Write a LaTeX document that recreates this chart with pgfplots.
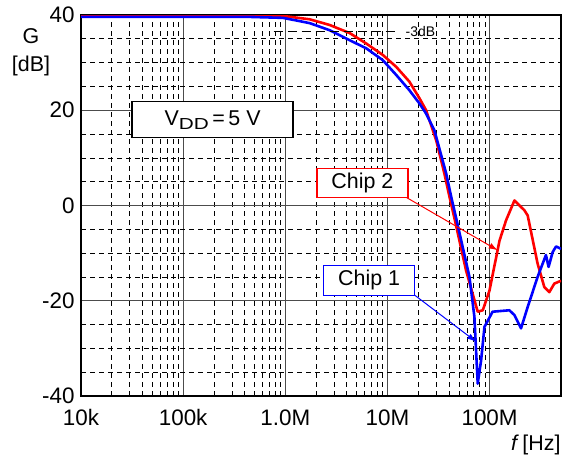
\documentclass[border=0pt]{standalone}
\usepackage{pgfplots}
\pgfplotsset{compat=1.18}
\usepackage{fontspec}
\setmainfont{Liberation Sans}
\usetikzlibrary{arrows.meta}
\definecolor{cred}{RGB}{255,0,0}
\definecolor{cblue}{RGB}{0,0,255}
\newcommand{\bigf}{\fontsize{21.5}{25}\selectfont}
\newcommand{\tickf}{\fontsize{22.5}{26}\selectfont}
\begin{document}
\begin{tikzpicture}
\useasboundingbox (-81bp,-63bp) rectangle (489bp,396bp);
\begin{axis}[
  scale only axis, width=480bp, height=381bp,
  xmode=log, xmin=1e4, xmax=5e8, ymin=-40, ymax=40,
  xtick={1e4,1e5,1e6,1e7,1e8},
  xticklabels={10k,100k,1.0M,10M,100M},
  ytick={-40,-20,0,20,40},
  yticklabels={-40,-20,0,20,40},
  minor ytick={-35,-30,-25,-15,-10,-5,5,10,15,25,30,35},
  grid=both,
  major grid style={solid, black!70, line width=0.8bp},
  minor grid style={black, line width=0.7bp, dash pattern=on 5bp off 4bp},
  major tick length=0pt, minor tick length=0pt,
  axis line style={line width=1.6bp},
  tick label style={font=\tickf},
  xticklabel style={yshift=-10bp},
  yticklabel style={xshift=-3bp},
  clip=true,
]
\addplot[cred, line width=2.6bp, line join=round] coordinates {
(1e4,40) (1e5,40) (4.49e5,40) (9.5e5,39.8) (1.73e6,39.1) (2.72e6,37.9)
(4.27e6,36.2) (6.21e6,34.0) (9.02e6,31.6) (1.22e7,29.1) (1.64e7,26.0)
(2.06e7,22.5) (2.39e7,20.0) (2.78e7,15.8) (3.0e7,13.7) (3.61e7,6.7)
(4.05e7,1.8) (4.53e7,-2.7) (5.89e7,-13.7) (7.65e7,-22.3) (8.57e7,-22)
(9.96e7,-17.9) (1.25e8,-7.4) (1.45e8,-3.1) (1.75e8,1.05) (2.19e8,-1.0)
(2.36e8,-2.1) (2.95e8,-12.2) (3.43e8,-17.1) (3.84e8,-18.2) (4.3e8,-16.4)
(5e8,-15.8)
};
\addplot[cblue, line width=2.6bp, line join=round] coordinates {
(1e4,39.6) (1e5,39.6) (4.49e5,39.6) (9.5e5,39.4) (1.73e6,38.3) (2.72e6,36.8)
(4.27e6,34.7) (6.21e6,33.0) (9.02e6,30.5) (1.22e7,27.4) (1.64e7,24.2)
(2.06e7,21.4) (2.39e7,19.3) (2.88e7,15.8) (3.76e7,6.7) (4.21e7,1.8)
(4.71e7,-2.7) (6.35e7,-15) (7.1e7,-23.4) (7.65e7,-37.4) (8.26e7,-32.5)
(8.9e7,-25.5) (1.07e8,-22.3) (1.56e8,-22) (1.75e8,-23) (2.03e8,-25.8)
(2.36e8,-21.3) (2.95e8,-15) (3.56e8,-10.4) (3.78e8,-12.9) (4.14e8,-9.8)
(4.47e8,-8.6) (5e8,-9.1)
};
\draw[black, line width=0.8bp, dash pattern=on 9bp off 5bp] (axis cs:7.7e5,36.5) -- (axis cs:1.22e7,36.5);
\node[font=\fontsize{14}{16}\selectfont] at (axis cs:2.1e7,36.6) {-3dB};
\draw[cred, line width=1bp, -{Latex[length=9bp,width=6bp]}] (axis cs:1.53e7,1.7) -- (axis cs:1.2e8,-9.4);
\draw[cblue, line width=1bp, -{Latex[length=9bp,width=6bp]}] (axis cs:1.84e7,-18.8) -- (axis cs:7.38e7,-28.6);
\node[draw=cred, fill=white, line width=1.2bp, minimum width=91bp, minimum height=29bp, inner sep=0pt, font=\bigf] at (axis cs:5.69e6,4.75) {Chip 2};
\node[draw=cblue, fill=white, line width=1.2bp, minimum width=91bp, minimum height=30bp, inner sep=0pt, font=\bigf] at (axis cs:6.61e6,-15.7) {Chip 1};
\node[draw=black, fill=white, line width=1.2bp, minimum width=161bp, minimum height=36bp, inner sep=0pt, font=\bigf] at (axis cs:1.94e5,18.0) {V\raisebox{-0.35ex}{\scalebox{1.3}[1]{\fontsize{16}{18}\selectfont DD}}\,=\,5 V};
\end{axis}
\node[font=\bigf] at (-50bp,360bp) {G};
\node[font=\bigf] at (-50bp,330bp) {[dB]};
\node[font=\bigf, anchor=east] at (483bp,-49bp) {\textit{f}\,[Hz]};
\end{tikzpicture}
\end{document}
